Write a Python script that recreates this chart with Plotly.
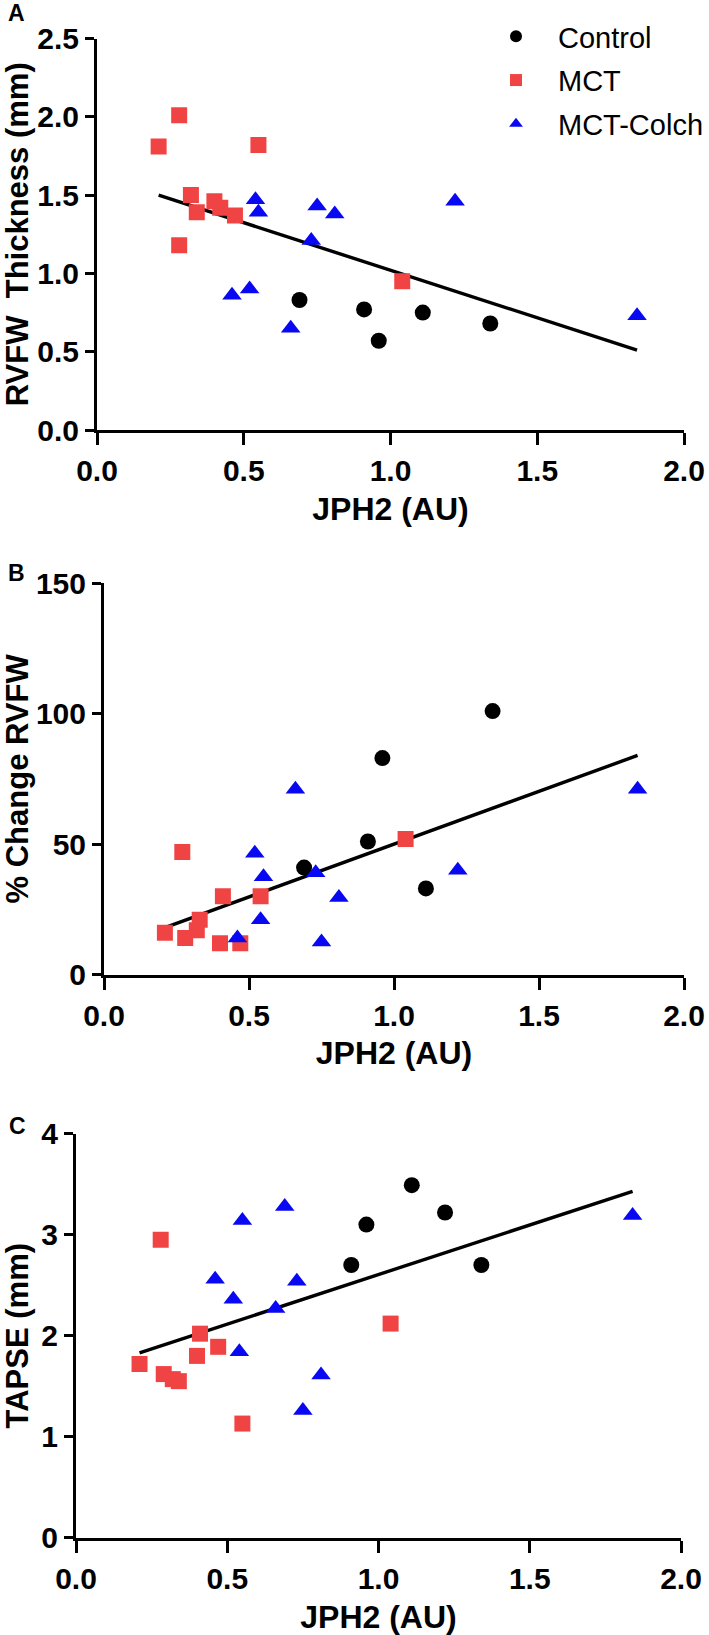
import plotly.graph_objects as go

W, H = 709, 1635

# ---------------- data ----------------
# Panel A: RVFW thickness (mm) vs JPH2 (AU)
ctrl_x_a = [0.69, 0.91, 0.96, 1.11, 1.34]
ctrl_y_a = [0.83, 0.77, 0.57, 0.75, 0.68]
mct_x_a = [0.21, 0.28, 0.55, 0.32, 0.34, 0.40, 0.42, 0.47, 0.28, 1.04]
mct_y_a = [1.81, 2.01, 1.82, 1.50, 1.39, 1.46, 1.42, 1.37, 1.18, 0.95]
colch_x_a = [0.54, 0.55, 0.75, 0.81, 0.73, 1.22, 0.46, 0.52, 0.66, 1.84]
colch_y_a = [1.47, 1.39, 1.43, 1.38, 1.21, 1.46, 0.86, 0.90, 0.65, 0.73]
fit_x_a = [0.21, 1.84]
fit_y_a = [1.50, 0.51]

# Panel B: % change RVFW vs JPH2 (AU)
ctrl_x_b = [0.69, 0.91, 0.96, 1.11, 1.34]
ctrl_y_b = [41, 51, 83, 33, 101]
mct_x_b = [0.21, 0.27, 0.28, 0.32, 0.33, 0.40, 0.47, 0.41, 0.54, 1.04]
mct_y_b = [16, 47, 14, 17, 21, 12, 12, 30, 30, 52]
colch_x_b = [0.66, 0.52, 0.55, 0.73, 0.54, 0.46, 0.75, 0.81, 1.22, 1.84]
colch_y_b = [71, 46.5, 37.5, 39, 21, 14, 12.5, 29.5, 40, 71]
fit_x_b = [0.21, 1.84]
fit_y_b = [18, 84]

# Panel C: TAPSE (mm) vs JPH2 (AU)
ctrl_x_c = [0.91, 0.96, 1.11, 1.22, 1.34]
ctrl_y_c = [2.70, 3.10, 3.49, 3.22, 2.70]
mct_x_c = [0.21, 0.28, 0.29, 0.32, 0.34, 0.40, 0.41, 0.47, 0.55, 1.04]
mct_y_c = [1.72, 2.95, 1.62, 1.57, 1.55, 1.80, 2.02, 1.89, 1.13, 2.12]
colch_x_c = [0.69, 0.55, 0.46, 0.52, 0.66, 0.73, 0.54, 0.81, 0.75, 1.84]
colch_y_c = [3.28, 3.14, 2.56, 2.36, 2.27, 2.54, 1.84, 1.61, 1.26, 3.19]
fit_x_c = [0.21, 1.84]
fit_y_c = [1.83, 3.43]

x_ticks = [0.0, 0.5, 1.0, 1.5, 2.0]
x_ticklabels = ["0.0", "0.5", "1.0", "1.5", "2.0"]
y_ticks_a = [0.0, 0.5, 1.0, 1.5, 2.0, 2.5]
y_ticklabels_a = ["0.0", "0.5", "1.0", "1.5", "2.0", "2.5"]
y_ticks_b = [0, 50, 100, 150]
y_ticks_c = [0, 1, 2, 3, 4]

group_names = ["Control", "MCT", "MCT-Colch"]
panel_letters = ["A", "B", "C"]
x_title = "JPH2 (AU)"
y_titles = ["RVFW\u00a0 Thickness (mm)", "% Change RVFW", "TAPSE (mm)"]

# ---------------- style ----------------
BLACK = "#000000"
RED = "#F04444"
BLUE = "#0808F2"
FONT = "Liberation Sans, Arial, sans-serif"

# plot boxes in pixels: (x_left, x_right, y_top, y_bottom)
boxes = [
    (97, 684, 38.5, 430),
    (104, 684, 583.3, 974.5),
    (76, 681, 1133.7, 1537.7),
]
letter_pos = [(16, 13), (16, 573), (17, 1126)]

fig = go.Figure()

panels = [
    (ctrl_x_a, ctrl_y_a, mct_x_a, mct_y_a, colch_x_a, colch_y_a, fit_x_a, fit_y_a),
    (ctrl_x_b, ctrl_y_b, mct_x_b, mct_y_b, colch_x_b, colch_y_b, fit_x_b, fit_y_b),
    (ctrl_x_c, ctrl_y_c, mct_x_c, mct_y_c, colch_x_c, colch_y_c, fit_x_c, fit_y_c),
]

for i, (cx, cy, mx, my, bx, by, fx, fy) in enumerate(panels):
    xa = "x" if i == 0 else f"x{i+1}"
    ya = "y" if i == 0 else f"y{i+1}"
    show = i == 0
    fig.add_trace(go.Scatter(x=fx, y=fy, mode="lines", xaxis=xa, yaxis=ya,
                             line=dict(color=BLACK, width=3.4), showlegend=False,
                             hoverinfo="skip"))
    fig.add_trace(go.Scatter(x=cx, y=cy, mode="markers", name=group_names[0],
                             xaxis=xa, yaxis=ya, showlegend=show, legendgroup="g1",
                             marker=dict(symbol="circle", size=16, color=BLACK)))
    fig.add_trace(go.Scatter(x=mx, y=my, mode="markers", name=group_names[1],
                             xaxis=xa, yaxis=ya, showlegend=show, legendgroup="g2",
                             marker=dict(symbol="square", size=16, color=RED)))
    fig.add_trace(go.Scatter(x=bx, y=by, mode="markers", name=group_names[2],
                             xaxis=xa, yaxis=ya, showlegend=show, legendgroup="g3",
                             marker=dict(symbol="triangle-up", size=17, color=BLUE)))

y_ranges = [[0, 2.5], [0, 150], [0, 4]]
y_tickvals = [y_ticks_a, y_ticks_b, y_ticks_c]
y_ticktexts = [y_ticklabels_a, [str(v) for v in y_ticks_b], [str(v) for v in y_ticks_c]]

axis_common = dict(showline=True, linewidth=3, linecolor=BLACK, ticks="outside",
                   tickwidth=3, tickcolor=BLACK, showgrid=False,
                   zeroline=False, automargin=False,
                   tickfont=dict(family=FONT, size=30, color=BLACK, weight="bold"))

layout = {}
for i, (xl, xr, yt, yb) in enumerate(boxes):
    xk = "xaxis" if i == 0 else f"xaxis{i+1}"
    yk = "yaxis" if i == 0 else f"yaxis{i+1}"
    yname = "y" if i == 0 else f"y{i+1}"
    xname = "x" if i == 0 else f"x{i+1}"
    layout[xk] = dict(axis_common, domain=[xl / W, xr / W], range=[0, 2],
                      tickvals=x_ticks, ticktext=x_ticklabels, anchor=yname,
                      ticklen=12, ticklabelstandoff=0,
                      title=dict(text=x_title, standoff=12,
                                 font=dict(family=FONT, size=32, color=BLACK, weight="bold")))
    layout[yk] = dict(axis_common, domain=[1 - yb / H, 1 - yt / H], range=y_ranges[i],
                      tickvals=y_tickvals[i], ticktext=y_ticktexts[i], anchor=xname,
                      ticklen=9,
                      title=dict(text=y_titles[i], standoff=4,
                                 font=dict(family=FONT, size=31, color=BLACK, weight="bold")))

fig.update_layout(**layout)

for (lx, ly), letter in zip(letter_pos, panel_letters):
    fig.add_annotation(text=f"<b>{letter}</b>", x=lx / W, y=1 - ly / H, xref="paper",
                       yref="paper", showarrow=False, xanchor="center", yanchor="middle",
                       font=dict(family=FONT, size=23, color=BLACK))

fig.update_layout(
    width=W, height=H,
    margin=dict(l=0, r=0, t=0, b=0),
    paper_bgcolor="white", plot_bgcolor="white",
    showlegend=True,
    legend=dict(x=474 / W, y=1 - 11 / H, xanchor="left", yanchor="top",
                font=dict(family=FONT, size=29, color=BLACK),
                bgcolor="rgba(0,0,0,0)", tracegroupgap=3, itemwidth=74,
                itemsizing="constant"),
)

fig.write_html("out.html", config={"displayModeBar": False},
               post_script="document.body.style.margin='0';")
